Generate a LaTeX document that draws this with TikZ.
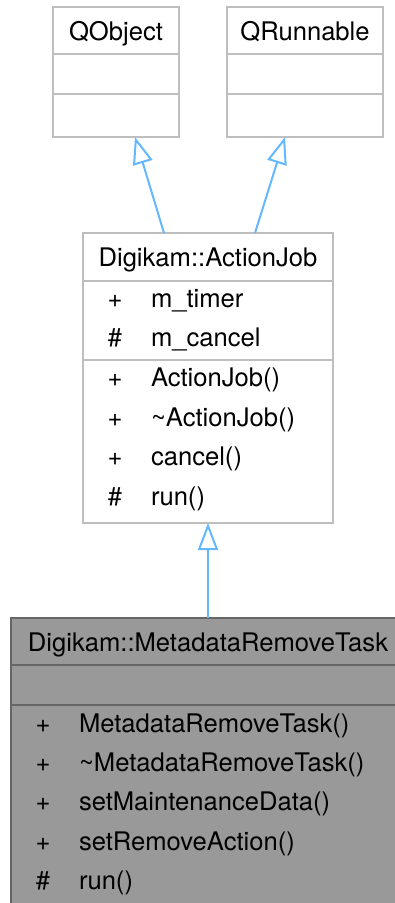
\documentclass[tikz,border=0pt]{standalone}
\usepackage{fontspec}
\setmainfont{TeX Gyre Heros}
\usetikzlibrary{arrows.meta}
\definecolor{boxline}{HTML}{BFBFBF}
\definecolor{arrowblue}{HTML}{63B8FF}
\definecolor{grayfill}{HTML}{999999}
\definecolor{grayline}{HTML}{666666}
\tikzset{
  cls/.style={rectangle, draw=boxline, line width=2pt, fill=white, inner sep=0pt, outer sep=0pt, anchor=north west},
  hicls/.style={cls, draw=grayline, fill=grayfill},
  sepline/.style={draw=boxline, line width=2pt},
  hisep/.style={draw=grayline, line width=2pt},
  txt/.style={inner sep=0pt, outer sep=0pt, font=\fontsize{25.6}{30}\selectfont},
  ctext/.style={txt, anchor=base},
  ltext/.style={txt, anchor=base west},
  inherit/.style={draw=arrowblue, line width=2pt, -{Triangle[open, length=27pt, width=20pt, line width=2pt]}}
}
\begin{document}
\begin{tikzpicture}[x=1pt, y=-1pt]
\useasboundingbox (0,0) rectangle (395,903);
\clip (0,0) rectangle (395,903);
\fill[white] (0,0) rectangle (395,903);

% QObject
\node[cls, minimum width=126pt, minimum height=130pt] (qobj) at (53,7) {};
\draw[sepline] (qobj.west |- 0,54) -- (qobj.east |- 0,54);
\draw[sepline] (qobj.west |- 0,94) -- (qobj.east |- 0,94);
\node[ctext] (qobjt) at (116,40) {QObject};

% QRunnable
\node[cls, minimum width=156pt, minimum height=130pt] (qrun) at (227,7) {};
\draw[sepline] (qrun.west |- 0,54) -- (qrun.east |- 0,54);
\draw[sepline] (qrun.west |- 0,94) -- (qrun.east |- 0,94);
\node[ctext] (qrunt) at (305,40) {QRunnable};

% ActionJob
\node[cls, minimum width=250pt, minimum height=290pt] (ajob) at (83,233) {};
\draw[sepline] (ajob.west |- 0,281) -- (ajob.east |- 0,281);
\draw[sepline] (ajob.west |- 0,360) -- (ajob.east |- 0,360);
\node[ctext] (ajobt) at (208,266) {Digikam::ActionJob};
\node[ctext] (a1v) at (115,307) {+};
\node[ltext] (a1) at (151,307) {m\_timer};
\node[ctext] (a2v) at (115,346.5) {\#};
\node[ltext] (a2) at (151,346.5) {m\_cancel};
\node[ctext] (m1v) at (115,386.5) {+};
\node[ltext] (m1) at (151,386.5) {ActionJob()};
\node[ctext] (m2v) at (115,426) {+};
\node[ltext] (m2) at (151,426) {\textasciitilde ActionJob()};
\node[ctext] (m3v) at (115,465.5) {+};
\node[ltext] (m3) at (151,465.5) {cancel()};
\node[ctext] (m4v) at (115,505) {\#};
\node[ltext] (m4) at (151,505) {run()};

% MetadataRemoveTask
\node[hicls, minimum width=394pt, minimum height=300pt] (mrt) at (11,618) {};
\draw[hisep] (mrt.west |- 0,665) -- (mrt.east |- 0,665);
\draw[hisep] (mrt.west |- 0,705) -- (mrt.east |- 0,705);
\node[ctext] (mrtt) at (208,651) {Digikam::MetadataRemoveTask};
\node[ctext] (r1v) at (43,732) {+};
\node[ltext] (r1) at (79,732) {MetadataRemoveTask()};
\node[ctext] (r2v) at (43,771) {+};
\node[ltext] (r2) at (79,771) {\textasciitilde MetadataRemoveTask()};
\node[ctext] (r3v) at (43,810.5) {+};
\node[ltext] (r3) at (79,810.5) {setMaintenanceData()};
\node[ctext] (r4v) at (43,850) {+};
\node[ltext] (r4) at (79,850) {setRemoveAction()};
\node[ctext] (r5v) at (43,889.5) {\#};
\node[ltext] (r5) at (79,889.5) {run()};

% inheritance arrows
\draw[inherit] ([xshift=-44pt]ajob.north) -- ([xshift=19pt]qobj.south);
\draw[inherit] ([xshift=47pt]ajob.north) -- ([xshift=-20pt]qrun.south);
\draw[inherit] (mrt.north) -- (ajob.south);
\end{tikzpicture}
\end{document}
